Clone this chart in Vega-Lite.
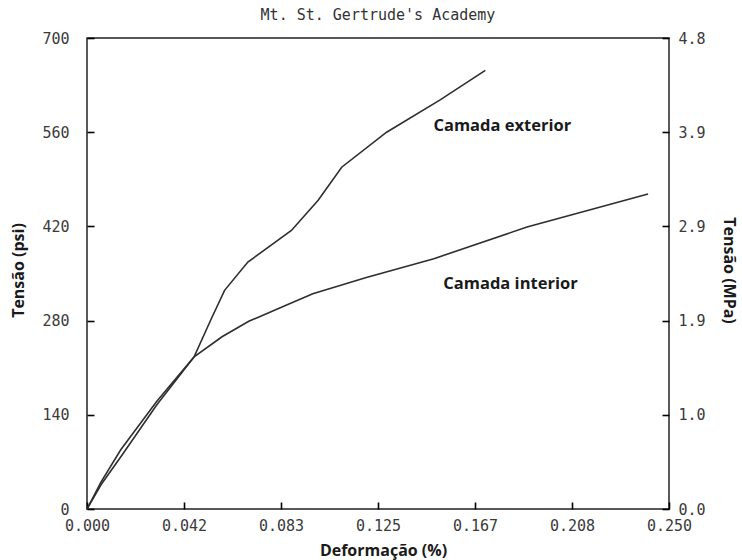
{
  "$schema": "https://vega.github.io/schema/vega-lite/v6.json",
  "width": 582,
  "height": 471,
  "autosize": {"type": "none"},
  "padding": {"left": 87, "top": 38, "right": 73, "bottom": 51},
  "background": "white",
  "title": {
    "text": "Mt. St. Gertrude's Academy",
    "font": "DejaVu Sans Mono",
    "fontSize": 15,
    "fontWeight": "normal",
    "color": "#333333",
    "anchor": "middle",
    "frame": "group",
    "offset": 8
  },
  "config": {
    "view": {"stroke": "#222222", "strokeWidth": 1.5},
    "axis": {
      "grid": false,
      "domain": false,
      "ticks": true,
      "zindex": 1,
      "offset": -7,
      "tickColor": "#000000",
      "tickWidth": 1.6,
      "tickSize": 7,
      "tickOpacity": 1,
      "labelFont": "DejaVu Sans Mono",
      "labelFontSize": 15,
      "labelColor": "#3a3a3a",
      "titleFont": "Open Sans",
      "titleFontSize": 16,
      "titleFontWeight": "bold",
      "titleColor": "#1a1a1a"
    }
  },
  "datasets": {
    "curves": [
      {"camada": "exterior", "deformacao": 0.0, "tensao": 0},
      {"camada": "exterior", "deformacao": 0.006, "tensao": 36},
      {"camada": "exterior", "deformacao": 0.015, "tensao": 80},
      {"camada": "exterior", "deformacao": 0.030, "tensao": 155},
      {"camada": "exterior", "deformacao": 0.046, "tensao": 226},
      {"camada": "exterior", "deformacao": 0.0533, "tensao": 282},
      {"camada": "exterior", "deformacao": 0.0591, "tensao": 325},
      {"camada": "exterior", "deformacao": 0.0691, "tensao": 367},
      {"camada": "exterior", "deformacao": 0.0878, "tensao": 414},
      {"camada": "exterior", "deformacao": 0.0993, "tensao": 459},
      {"camada": "exterior", "deformacao": 0.1094, "tensao": 508},
      {"camada": "exterior", "deformacao": 0.1287, "tensao": 560},
      {"camada": "exterior", "deformacao": 0.1517, "tensao": 608},
      {"camada": "exterior", "deformacao": 0.1711, "tensao": 652},
      {"camada": "interior", "deformacao": 0.0, "tensao": 0},
      {"camada": "interior", "deformacao": 0.006, "tensao": 40},
      {"camada": "interior", "deformacao": 0.0145, "tensao": 88},
      {"camada": "interior", "deformacao": 0.030, "tensao": 160},
      {"camada": "interior", "deformacao": 0.046, "tensao": 226},
      {"camada": "interior", "deformacao": 0.058, "tensao": 256},
      {"camada": "interior", "deformacao": 0.0695, "tensao": 279},
      {"camada": "interior", "deformacao": 0.085, "tensao": 302},
      {"camada": "interior", "deformacao": 0.097, "tensao": 320},
      {"camada": "interior", "deformacao": 0.120, "tensao": 344},
      {"camada": "interior", "deformacao": 0.149, "tensao": 372},
      {"camada": "interior", "deformacao": 0.189, "tensao": 419},
      {"camada": "interior", "deformacao": 0.241, "tensao": 468}
    ],
    "labels": [
      {"texto": "Camada exterior", "deformacao": 0.1784, "tensao": 569},
      {"texto": "Camada interior", "deformacao": 0.1819, "tensao": 335}
    ]
  },
  "layer": [
    {
      "data": {"name": "curves"},
      "mark": {"type": "line", "color": "#2e2e2e", "strokeWidth": 1.6},
      "encoding": {
        "x": {
          "field": "deformacao",
          "type": "quantitative",
          "scale": {"domain": [0, 0.25], "nice": false, "zero": false},
          "axis": {
            "title": "Deformação (%)",
            "values": [0, 0.0416667, 0.0833333, 0.125, 0.1666667, 0.2083333, 0.25],
            "format": ".3f",
            "labelFlush": false,
            "labelPadding": 9,
            "titleX": 296,
            "titleY": 48,
            "titleAlign": "center",
            "titleBaseline": "middle"
          }
        },
        "y": {
          "field": "tensao",
          "type": "quantitative",
          "scale": {"domain": [0, 700], "nice": false},
          "axis": {
            "title": "Tensão (psi)",
            "orient": "left",
            "values": [0, 140, 280, 420, 560, 700],
            "labelPadding": 18,
            "titleAngle": -90,
            "titleX": -76,
            "titleY": 232,
            "titleAlign": "center",
            "titleBaseline": "middle"
          }
        },
        "detail": {"field": "camada", "type": "nominal"}
      }
    },
    {
      "data": {"name": "labels"},
      "mark": {
        "type": "text",
        "font": "Open Sans",
        "fontSize": 16.5,
        "fontWeight": "bold",
        "color": "#1a1a1a",
        "align": "center",
        "baseline": "middle"
      },
      "encoding": {
        "x": {"field": "deformacao", "type": "quantitative"},
        "y": {
          "field": "tensao",
          "type": "quantitative",
          "scale": {"domain": [0, 700], "nice": false},
          "axis": {
            "title": "Tensão (MPa)",
            "orient": "right",
            "values": [0, 140, 280, 420, 560, 700],
            "labelExpr": "format(datum.value * 0.006895, '.1f')",
            "labelPadding": 9,
            "titleAngle": 90,
            "titleX": 66,
            "titleY": 232,
            "titleAlign": "center",
            "titleBaseline": "middle"
          }
        },
        "text": {"field": "texto", "type": "nominal"}
      }
    }
  ],
  "resolve": {"scale": {"y": "independent"}}
}
